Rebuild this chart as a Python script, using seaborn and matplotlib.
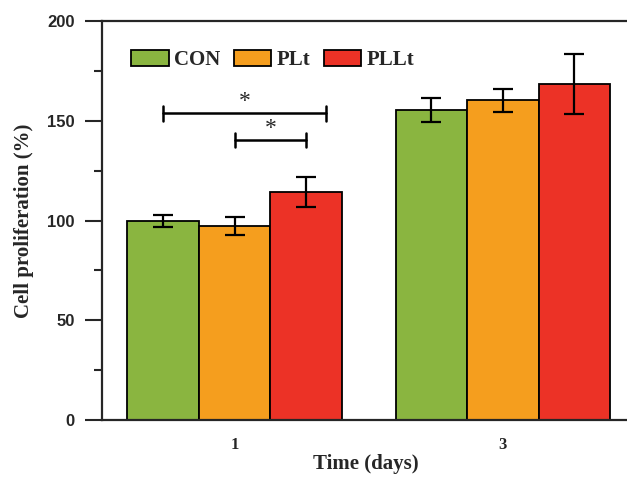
import numpy as np
import pandas as pd
import seaborn as sns
import matplotlib.pyplot as plt
from matplotlib.ticker import MultipleLocator

# values
days = ["1", "3"]
groups = ["CON", "PLt", "PLLt"]
means = {"CON": [100.0, 155.5], "PLt": [97.2, 160.2], "PLLt": [114.3, 168.5]}
errors = {"CON": [3.0, 6.0], "PLt": [4.6, 5.8], "PLLt": [7.4, 15.0]}
colors = ["#8ab540", "#f59e1e", "#ec3226"]

df = pd.DataFrame([
    {"day": d, "group": g, "value": means[g][i]}
    for g in groups for i, d in enumerate(days)
])

sns.set_style("ticks")
plt.rcParams["font.family"] = ["Liberation Serif", "DejaVu Serif"]

fig = plt.figure(figsize=(6.27, 4.78), dpi=100)
ax = fig.add_axes([0.163, 0.121, 0.84, 0.835])

sns.barplot(data=df, x="day", y="value", hue="group", order=days, hue_order=groups,
            palette=colors, width=0.8, errorbar=None, saturation=1,
            edgecolor="black", linewidth=1.3, ax=ax)

# error bars on top of the bars drawn by seaborn
centers = {}
for g, cont in zip(groups, ax.containers):
    xs = [b.get_x() + b.get_width() / 2 for b in cont]
    ys = [b.get_height() for b in cont]
    centers[g] = xs
    ax.errorbar(xs, ys, yerr=errors[g], fmt="none", ecolor="black",
                elinewidth=1.6, capsize=7.5, capthick=1.6, zorder=5)

# significance brackets (day 1)
def bracket(x0, x1, y, h=3.6):
    ax.plot([x0, x1], [y, y], color="black", lw=1.8, zorder=5)
    ax.plot([x0, x0], [y - h, y + h], color="black", lw=1.8, zorder=5)
    ax.plot([x1, x1], [y - h, y + h], color="black", lw=1.8, zorder=5)
    ax.text((x0 + x1) / 2, y + 0.5, "*", ha="center", va="bottom", fontsize=17)

bracket(centers["CON"][0], centers["PLLt"][0] + 0.075, 153.7)
bracket(centers["PLt"][0], centers["PLLt"][0], 140.4)

ax.set_ylim(0, 200)
ax.set_xlim(-0.494, 1.47)
ax.yaxis.set_major_locator(MultipleLocator(50))
ax.yaxis.set_minor_locator(MultipleLocator(25))
ax.tick_params(axis="y", which="major", direction="out", length=12, width=1.5, pad=8)
ax.tick_params(axis="y", which="minor", direction="out", length=6, width=1.5)
ax.tick_params(axis="x", length=0, pad=12)
for lab in ax.get_yticklabels():
    lab.set_fontfamily(["Liberation Sans", "DejaVu Sans"])
    lab.set_fontweight("bold")
    lab.set_fontsize(12)
for lab in ax.get_xticklabels():
    lab.set_fontweight("bold")
    lab.set_fontsize(12)

for side in ["left", "bottom", "top"]:
    ax.spines[side].set_linewidth(1.6)
ax.spines["right"].set_visible(False)

ax.set_xlabel("Time (days)", fontsize=15, fontweight="bold", labelpad=1)
ax.set_ylabel("Cell proliferation (%)", fontsize=15, fontweight="bold", labelpad=9)

leg = ax.legend(loc="upper left", bbox_to_anchor=(0.02, 0.975), ncol=3, frameon=False,
                handlelength=1.8, handleheight=0.8, handletextpad=0.25, columnspacing=0.65,
                prop={"family": ["Liberation Serif"], "weight": "bold", "size": 15})
for h in leg.legend_handles:
    h.set_edgecolor("black")
    h.set_linewidth(1.3)

fig.savefig("out.png", dpi=100)
